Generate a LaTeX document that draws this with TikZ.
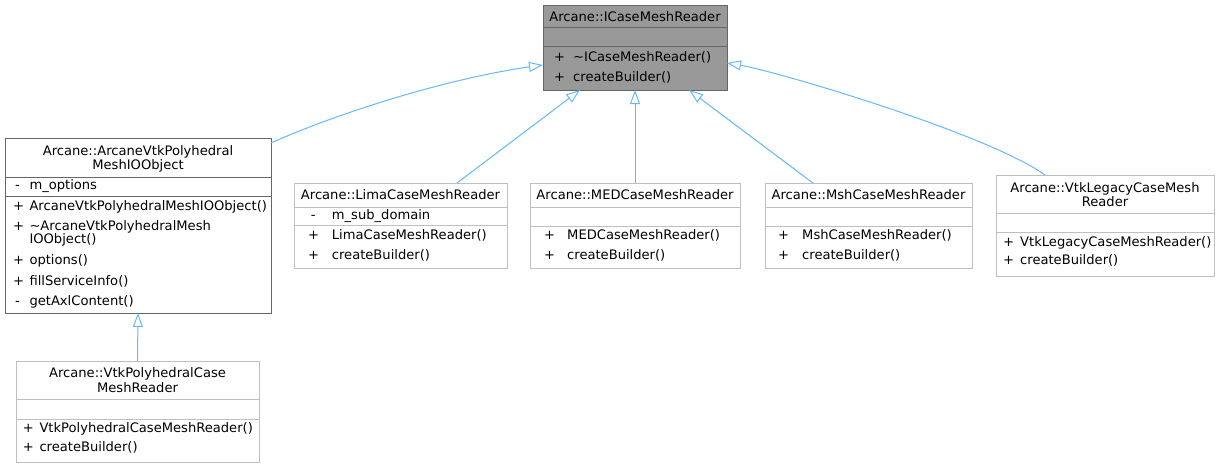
\documentclass[tikz,border=0pt]{standalone}
\usepackage{fontspec}
\setmainfont{DejaVu Sans}
\usetikzlibrary{arrows.meta}
\definecolor{edgeblue}{HTML}{63B8FF}
\definecolor{boxgray}{HTML}{BFBFBF}
\definecolor{darkborder}{HTML}{666666}
\definecolor{basefill}{HTML}{999999}
\tikzset{
  cls/.style={draw=boxgray, line width=0.9pt, fill=white, anchor=north west, inner sep=0pt, outer sep=0pt},
  sep/.style={draw=boxgray, line width=0.9pt},
  mem/.style={anchor=base west, inner sep=0pt, font=\fontsize{13.1}{15}\selectfont},
  ttl/.style={anchor=base, inner sep=0pt, font=\fontsize{13.1}{15}\selectfont},
  inh/.style={draw=edgeblue, line width=1pt, -{Triangle[open, length=14pt, width=10pt]}},
}
\begin{document}
\begin{tikzpicture}[x=1pt, y=-1pt]
\useasboundingbox (0,0) rectangle (1221,467);

% ICaseMeshReader
\node[cls, draw=darkborder, fill=basefill, minimum width=184pt, minimum height=85pt] (icase) at (543,5) {};
\draw[sep, draw=darkborder] (543,27) -- (727,27);
\draw[sep, draw=darkborder] (543,46) -- (727,46);
\node[ttl] (icaset) at (635,21.5) {Arcane::ICaseMeshReader};
\node[mem] (icasep1) at (554,61.5) {+};
\node[mem] (icasem1) at (573,61.5) {\textasciitilde ICaseMeshReader()};
\node[mem] (icasep2) at (554,81.5) {+};
\node[mem] (icasem2) at (573,81.5) {createBuilder()};

% ArcaneVtkPolyhedralMeshIOObject
\node[cls, draw=darkborder, minimum width=266pt, minimum height=175pt] (arcvtk) at (5,138) {};
\draw[sep, draw=darkborder] (5,177) -- (271,177);
\draw[sep, draw=darkborder] (5,196) -- (271,196);
\node[ttl] (arcvtkt1) at (138,155.5) {Arcane::ArcaneVtkPolyhedral};
\node[ttl] (arcvtkt2) at (138,169.5) {MeshIOObject};
\node[mem] (arcvtka1s) at (15,189.5) {-};
\node[mem] (arcvtka1) at (29.3,189.5) {m\_options};
\node[mem] (arcvtkp1) at (13,210.5) {+};
\node[mem] (arcvtkm1) at (29.3,210.5) {ArcaneVtkPolyhedralMeshIOObject()};
\node[mem] (arcvtkp2) at (13,230.5) {+};
\node[mem] (arcvtkm2) at (29.3,230.5) {\textasciitilde ArcaneVtkPolyhedralMesh};
\node[mem] (arcvtkm2b) at (29.3,243.8) {IOObject()};
\node[mem] (arcvtkp3) at (13,264.5) {+};
\node[mem] (arcvtkm3) at (29.3,264.5) {options()};
\node[mem] (arcvtkp4) at (13,285.2) {+};
\node[mem] (arcvtkm4) at (29.3,285.2) {fillServiceInfo()};
\node[mem] (arcvtkp5) at (15,305.2) {-};
\node[mem] (arcvtkm5) at (29.3,305.2) {getAxlContent()};

% LimaCaseMeshReader
\node[cls, minimum width=213pt, minimum height=85pt] (lima) at (294,183) {};
\draw[sep] (294,207) -- (507,207);
\draw[sep] (294,225) -- (507,225);
\node[ttl] (limat) at (400.5,199.5) {Arcane::LimaCaseMeshReader};
\node[mem] (limas1) at (310.7,219.5) {-};
\node[mem] (limaa1) at (331.7,219.5) {m\_sub\_domain};
\node[mem] (limap1) at (308,239.5) {+};
\node[mem] (limam1) at (331.7,239.5) {LimaCaseMeshReader()};
\node[mem] (limap2) at (308,259.5) {+};
\node[mem] (limam2) at (331.7,259.5) {createBuilder()};

% MEDCaseMeshReader
\node[cls, minimum width=210pt, minimum height=85pt] (med) at (530,183) {};
\draw[sep] (530,207) -- (740,207);
\draw[sep] (530,226) -- (740,226);
\node[ttl] (medt) at (635,199.5) {Arcane::MEDCaseMeshReader};
\node[mem] (medp1) at (544,239.5) {+};
\node[mem] (medm1) at (567,239.5) {MEDCaseMeshReader()};
\node[mem] (medp2) at (544,259.5) {+};
\node[mem] (medm2) at (567,259.5) {createBuilder()};

% MshCaseMeshReader
\node[cls, minimum width=207pt, minimum height=85pt] (msh) at (765,183) {};
\draw[sep] (765,207) -- (972,207);
\draw[sep] (765,226) -- (972,226);
\node[ttl] (msht) at (868.5,199.5) {Arcane::MshCaseMeshReader};
\node[mem] (mshp1) at (778,239.5) {+};
\node[mem] (mshm1) at (802,239.5) {MshCaseMeshReader()};
\node[mem] (mshp2) at (778,259.5) {+};
\node[mem] (mshm2) at (802,259.5) {createBuilder()};

% VtkLegacyCaseMeshReader
\node[cls, minimum width=218pt, minimum height=101pt] (vtkleg) at (996,175) {};
\draw[sep] (996,213) -- (1214,213);
\draw[sep] (996,232) -- (1214,232);
\node[ttl] (vtklegt1) at (1105,192.5) {Arcane::VtkLegacyCaseMesh};
\node[ttl] (vtklegt2) at (1105,206.5) {Reader};
\node[mem] (vtklegp1) at (1003,246.2) {+};
\node[mem] (vtklegm1) at (1020,246.2) {VtkLegacyCaseMeshReader()};
\node[mem] (vtklegp2) at (1003,264.5) {+};
\node[mem] (vtklegm2) at (1020,264.5) {createBuilder()};

% VtkPolyhedralCaseMeshReader
\node[cls, minimum width=243pt, minimum height=101pt] (vtkpoly) at (16,361) {};
\draw[sep] (16,399) -- (259,399);
\draw[sep] (16,419) -- (259,419);
\node[ttl] (vtkpolyt1) at (137.5,377.8) {Arcane::VtkPolyhedralCase};
\node[ttl] (vtkpolyt2) at (137.5,392.8) {MeshReader};
\node[mem] (vtkpolyp1) at (22.7,432.8) {+};
\node[mem] (vtkpolym1) at (39.3,432.8) {VtkPolyhedralCaseMeshReader()};
\node[mem] (vtkpolyp2) at (22.7,451.2) {+};
\node[mem] (vtkpolym2) at (39.3,451.2) {createBuilder()};

% inheritance connectors
\draw[inh] ([yshift=-5pt]arcvtk.north east) .. controls +(69,-31) and +(-93,13) .. ([yshift=-17.5pt]icase.west);
\draw[inh] ([xshift=56.5pt]lima.north) -- ([xshift=-55pt]icase.south);
\draw[inh] (med.north) -- (icase.south);
\draw[inh] ([xshift=-55.5pt]msh.north) -- ([xshift=54pt]icase.south);
\draw[inh] ([xshift=-60pt]vtkleg.north) .. controls +(-55,-40) and +(53,9) .. ([yshift=-15.5pt]icase.east);
\draw[inh] (vtkpoly.north) -- (arcvtk.south);
\end{tikzpicture}
\end{document}
